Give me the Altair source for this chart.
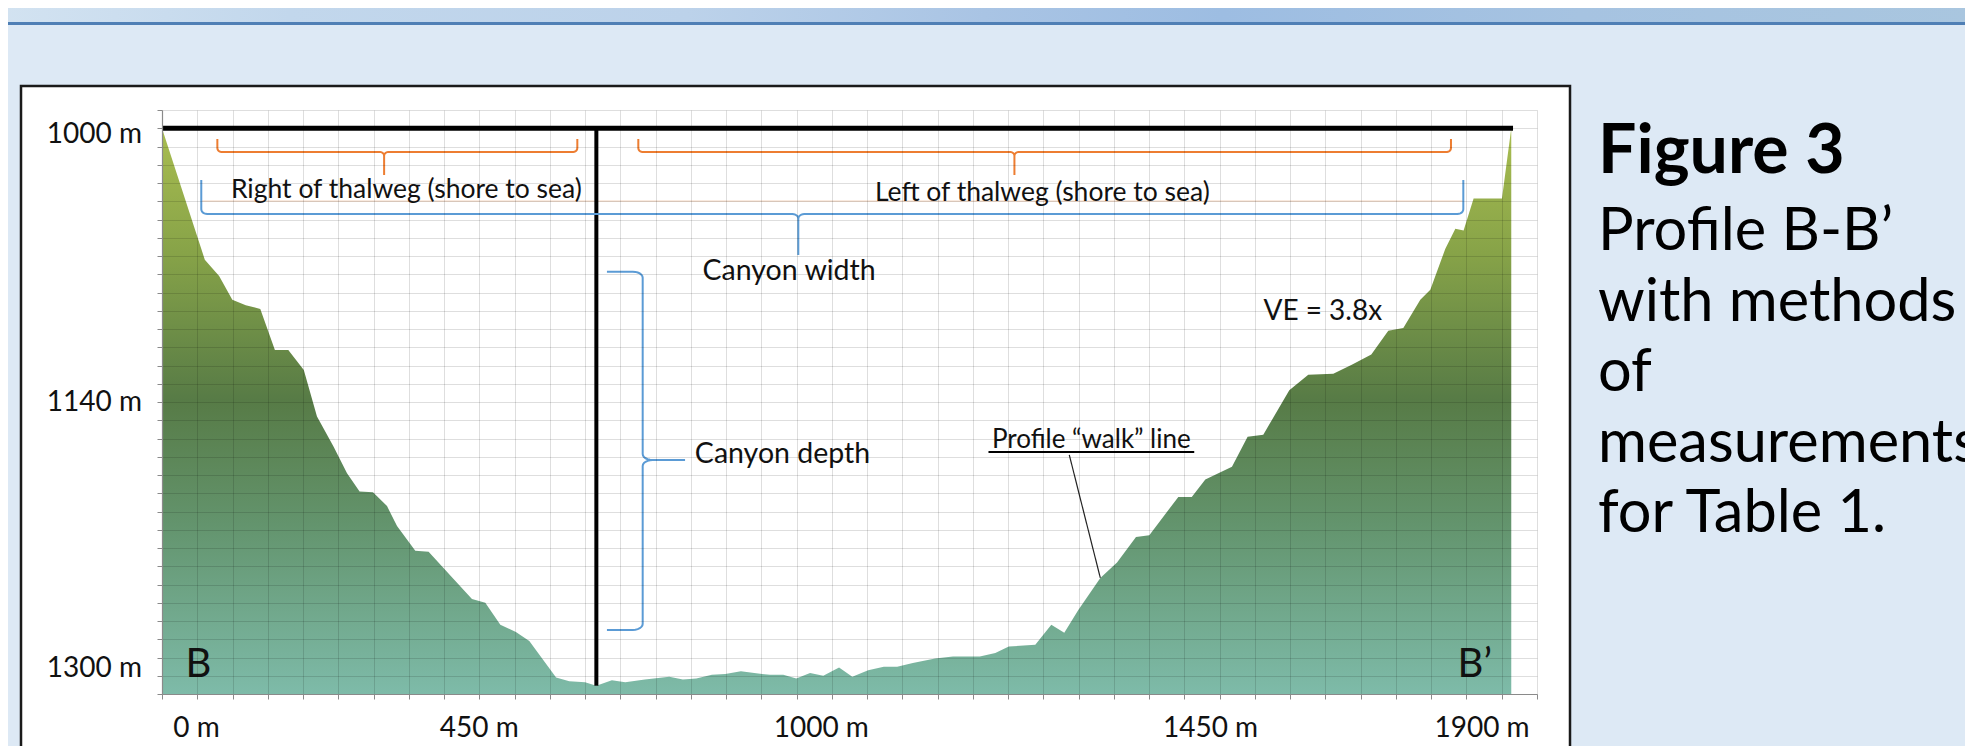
import altair as alt
import pandas as pd
import numpy as np

# ---------------- data ----------------
# Profile B-B': distance along profile (m) and depth (m)
dist_m = [0, 60.7, 81, 99.7, 118.8, 139.4, 160.1, 179.1, 201.1, 219.8, 243.4, 262.4, 280.2,
          299.2, 319.1, 333.3, 359.2, 378.1, 413.5, 439.6, 458.5, 479.8, 501.9, 520.9, 558.9,
          577.6, 600, 615.9, 638, 657, 684.8, 719.4, 738.7, 757.7, 779.9, 798.9, 821, 840,
          862.1, 881.1, 899.5, 919.1, 937.8, 960.2, 979, 1001.5, 1023.6, 1042.6, 1064.8,
          1096.4, 1121.8, 1159.8, 1181.8, 1200.9, 1238.5, 1261.2, 1279.6, 1299.5, 1330.7,
          1354.4, 1381.3, 1400.2, 1441.3, 1460.4, 1479.6, 1517.4, 1539.6, 1561.8, 1598.7,
          1625.6, 1661.1, 1688, 1715, 1739.1, 1760.4, 1784.5, 1798.7, 1820, 1834.2, 1845.9,
          1860.1, 1900.3, 1913.5]
depth_m = [1000, 1072, 1081, 1094, 1097, 1099, 1121.5, 1121.5, 1132.5, 1158, 1174.5, 1189, 1199,
           1199.5, 1207, 1218, 1231.5, 1232, 1247, 1258, 1260, 1272, 1276, 1281, 1301,
           1303, 1303.5, 1305.5, 1302.5, 1303.5, 1302, 1300.5, 1302, 1301.5, 1299.5, 1299, 1297.5, 1298.5,
           1299.5, 1299.5, 1301.5, 1298.5, 1300, 1295.5, 1300.5, 1297, 1295, 1295, 1293,
           1290.5, 1289.5, 1289.5, 1287.5, 1284, 1283, 1272, 1276.5, 1264, 1246.5,
           1238, 1224, 1223, 1202, 1202, 1192.5, 1185.5, 1169, 1168, 1143.5,
           1135, 1134.5, 1129.5, 1124, 1111, 1109.5, 1094, 1088.5, 1066, 1055, 1056,
           1038.5, 1038.5, 1000]

# tick labels (text boxes in the original) and where they sit
y_tick_labels = ["1000 m", "1140 m", "1300 m"]
y_label_pos = [1008, 1155, 1300.5]
x_tick_labels = ["0 m", "450 m", "1000 m", "1450 m", "1900 m"]
x_label_pos = [49, 450, 935, 1487, 1872]

surface_depth = 1000
thalweg_dist = 616
thalweg_depth = 1305.5
line_end_dist = 1916

caption_title = "Figure 3"
caption_lines = ["Profile B-B\u2019", "with methods", "of", "measurements", "for Table 1."]

FONT = "Lato"

profile = pd.DataFrame({"dist": dist_m, "depth": depth_m})

XS = alt.Scale(domain=[0, 1950], nice=False, zero=False)
YS = alt.Scale(domain=[990, 1310], reverse=True, nice=False, zero=False)
x_axis = alt.Axis(values=list(range(0, 1951, 50)), labels=False, title=None, ticks=True,
                  tickSize=5, tickColor="#8a8a8a", domainColor="#8a8a8a", domainWidth=1.2,
                  grid=True, gridColor="#000000", gridOpacity=0.13, zindex=1)
y_axis = alt.Axis(values=list(range(990, 1311, 10)), labels=False, title=None, ticks=True,
                  tickSize=5, tickColor="#8a8a8a", domainColor="#8a8a8a", domainWidth=1.2,
                  grid=True, gridColor="#000000", gridOpacity=0.13, zindex=1)


def X(f):
    return alt.X(f, scale=XS, axis=x_axis)


def Y(f):
    return alt.Y(f, scale=YS, axis=y_axis)


one = alt.Data(values=[{"a": 1}])

# ---------------- page decoration ----------------
header = alt.Chart(one).mark_rect(
    color=alt.Gradient(gradient="linear", x1=0, x2=1, y1=0, y2=0, stops=[
        alt.GradientStop(color="#d3e3f1", offset=0),
        alt.GradientStop(color="#c2d7ec", offset=0.15),
        alt.GradientStop(color="#bcd2ea", offset=0.35),
        alt.GradientStop(color="#a9c4e4", offset=0.5),
        alt.GradientStop(color="#9dbde2", offset=0.62),
        alt.GradientStop(color="#a6c3e1", offset=0.8),
        alt.GradientStop(color="#a9c6df", offset=1)])
).encode(x=alt.value(-170), x2=alt.value(1815), y=alt.value(-120), y2=alt.value(-88))

header_line = alt.Chart(one).mark_rule(color="#4f7fb5", strokeWidth=3).encode(
    x=alt.value(-170), x2=alt.value(1815), y=alt.value(-86.5))

box = alt.Chart(one).mark_rect(fill="white", stroke="#1a1a1a", strokeWidth=2.5).encode(
    x=alt.value(-141), x2=alt.value(1408), y=alt.value(-24), y2=alt.value(665))

# ---------------- profile ----------------
area = alt.Chart(profile).mark_area(
    color=alt.Gradient(gradient="linear", x1=0, x2=0, y1=0, y2=1, stops=[
        alt.GradientStop(color="#a9bd50", offset=0),
        alt.GradientStop(color="#87a348", offset=0.22),
        alt.GradientStop(color="#577b46", offset=0.48),
        alt.GradientStop(color="#63946d", offset=0.7),
        alt.GradientStop(color="#7ebba9", offset=1)])
).encode(x=X("dist:Q"), y=Y("depth:Q"), y2=alt.datum(1310))

hline_df = pd.DataFrame({"x": [0], "x2": [line_end_dist], "y": [surface_depth]})
hline = alt.Chart(hline_df).mark_rule(color="black", strokeWidth=5).encode(
    x=X("x:Q"), x2="x2:Q", y=Y("y:Q"))

vline_df = pd.DataFrame({"x": [thalweg_dist], "y": [surface_depth], "y2": [thalweg_depth]})
vline = alt.Chart(vline_df).mark_rule(color="black", strokeWidth=4).encode(
    x=X("x:Q"), y=Y("y:Q"), y2="y2:Q")


# ---------------- braces ----------------
def arc(cx, cy, rx, ry, a0, a1, n=7):
    t = np.linspace(a0, a1, n)
    return list(zip(cx + rx * np.cos(t), cy + ry * np.sin(t)))


def hbrace(x0, x1, xc, y_end, y_h, y_tip, rx, ry):
    pts = [(x0, y_end), (x0, y_h - ry)]
    pts += arc(x0 + rx, y_h - ry, rx, ry, np.pi, np.pi / 2)
    pts += arc(xc - rx, y_h + ry, rx, ry, -np.pi / 2, 0)
    pts += [(xc, y_tip), (xc, y_h + ry)]
    pts += arc(xc + rx, y_h + ry, rx, ry, np.pi, 1.5 * np.pi)
    pts += arc(x1 - rx, y_h - ry, rx, ry, np.pi / 2, 0)
    pts += [(x1, y_end)]
    return pts


def vbrace(x_end, x_v, x_tip, y_top, y_c, y_bot, rx, ry):
    pts = [(x_end, y_top)]
    pts += arc(x_v - rx, y_top + ry, rx, ry, -np.pi / 2, 0)
    pts += arc(x_v + rx, y_c - ry, rx, ry, np.pi, np.pi / 2)
    pts += [(x_tip, y_c)]
    pts += arc(x_v + rx, y_c + ry, rx, ry, 1.5 * np.pi, np.pi)
    pts += arc(x_v - rx, y_bot - ry, rx, ry, 0, np.pi / 2)
    pts += [(x_end, y_bot)]
    return pts


def brace_df(shapes):
    rows = []
    for bid, pts in shapes.items():
        for i, (bx, by) in enumerate(pts):
            rows.append({"bid": bid, "ord": i, "bx": float(bx), "by": float(by)})
    return pd.DataFrame(rows)


orange_df = brace_df({
    "right": hbrace(78.5, 589, 315, 1005.9, 1013, 1025.6, 5.7, 2.2),
    "left": hbrace(675.5, 1828, 1208.9, 1005.9, 1013, 1025.6, 5.7, 2.2),
})
blue_df = brace_df({
    "width": hbrace(55.7, 1845.5, 902.4, 1028.4, 1047, 1069.5, 8.5, 2.6),
    "depth": vbrace(631, 681.7, 741.8, 1078.6, 1181.8, 1274.9, 14, 3.3),
})

orange = alt.Chart(orange_df).mark_line(color="#ed7d31", strokeWidth=2).encode(
    x=X("bx:Q"), y=Y("by:Q"), detail="bid:N", order="ord:Q")
blue = alt.Chart(blue_df).mark_line(color="#5b9bd5", strokeWidth=2).encode(
    x=X("bx:Q"), y=Y("by:Q"), detail="bid:N", order="ord:Q")

faint_df = pd.DataFrame({"x": [56], "x2": [1845], "y": [1039.9]})
faint = alt.Chart(faint_df).mark_rule(color="#f2cfb5", strokeWidth=1).encode(
    x=X("x:Q"), x2="x2:Q", y=Y("y:Q"))

leader_df = pd.DataFrame({"x": [1286.7], "y": [1179], "x2": [1330.7], "y2": [1246.4]})
leader = alt.Chart(leader_df).mark_rule(color="#222", strokeWidth=1.2).encode(
    x=X("x:Q"), y=Y("y:Q"), x2="x2:Q", y2="y2:Q")

under_df = pd.DataFrame({"x": [1172.1], "x2": [1463.9], "y": [1177.4]})
underline = alt.Chart(under_df).mark_rule(color="black", strokeWidth=2).encode(
    x=X("x:Q"), x2="x2:Q", y=Y("y:Q"))

# ---------------- annotation text ----------------
center_txt = pd.DataFrame({
    "t": ["Right of thalweg (shore to sea)", "Left of thalweg (shore to sea)", "Canyon width",
          "Profile \u201cwalk\u201d line", "VE = 3.8x", "B"],
    "tx": [346.6, 1248.5, 889.4, 1317.9, 1646.2, 51.5],
    "ty": [1038.4, 1039.9, 1083.2, 1175.2, 1105.1, 1300.5],
    "fs": [26.5, 26.5, 28.5, 26, 28, 40],
})
left_txt = pd.DataFrame({
    "t": ["Canyon depth", "B\u2019"],
    "tx": [755.7, 1837.4],
    "ty": [1183.5, 1300.5],
    "fs": [28.5, 40],
})

t_center = alt.Chart(center_txt).mark_text(font=FONT, align="center", baseline="alphabetic",
                                           color="#111").encode(
    x=X("tx:Q"), y=Y("ty:Q"), text="t:N", size=alt.Size("fs:Q", scale=None, legend=None))
t_left = alt.Chart(left_txt).mark_text(font=FONT, align="left", baseline="alphabetic",
                                       color="#111").encode(
    x=X("tx:Q"), y=Y("ty:Q"), text="t:N", size=alt.Size("fs:Q", scale=None, legend=None))

ylab_df = pd.DataFrame({"t": y_tick_labels, "ty": y_label_pos, "tx": [0] * 3})
ylab = alt.Chart(ylab_df).mark_text(font=FONT, fontSize=28, align="right", baseline="alphabetic",
                                    dx=-20, color="#111").encode(
    x=X("tx:Q"), y=Y("ty:Q"), text="t:N")

xlab_df = pd.DataFrame({"t": x_tick_labels, "tx": x_label_pos, "ty": [1310] * 5})
xlab = alt.Chart(xlab_df).mark_text(font=FONT, fontSize=28, align="center", baseline="alphabetic",
                                    dy=43, color="#111").encode(
    x=X("tx:Q"), y=Y("ty:Q"), text="t:N")

# ---------------- caption (last word runs to the page edge, as in the poster) ----------------
cap1 = alt.Chart(one).mark_text(font=FONT, fontSize=68, fontWeight="bold", align="left",
                                baseline="alphabetic", color="#000", text=caption_title).encode(
    x=alt.value(1436), y=alt.value(63))
cap2 = alt.Chart(one).mark_text(font=FONT, fontSize=59.5, align="left", baseline="alphabetic",
                                color="#000", lineHeight=70.5, text=caption_lines).encode(
    x=alt.value(1436), y=alt.value(140))

chart = alt.layer(
    header, header_line, box, area, faint, hline, vline, orange, blue, leader, underline,
    t_center, t_left, ylab, xlab, cap1, cap2
).properties(
    width=1375, height=584, background="#dde9f5",
    padding={"left": 154, "top": 102, "right": 428, "bottom": 52},
    autosize=alt.AutoSizeParams(type="none"),
).configure_view(stroke=None)

chart.save("out.html", embed_options={"renderer": "svg", "actions": False})
